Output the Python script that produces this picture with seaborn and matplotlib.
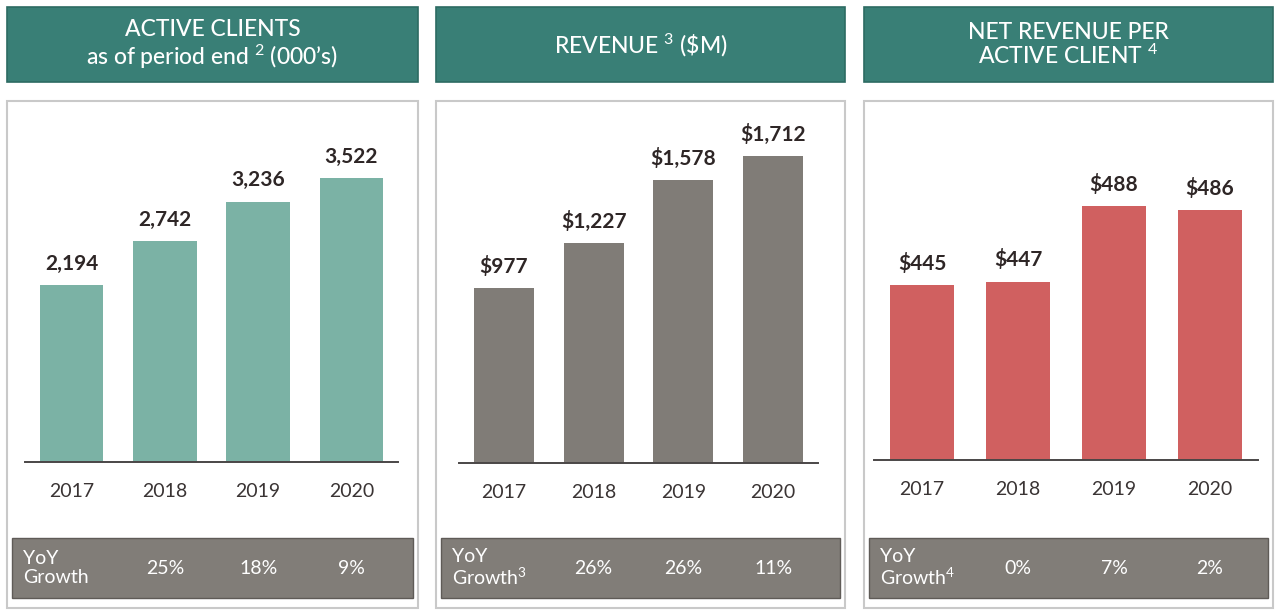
import matplotlib
matplotlib.use("Agg")
import matplotlib.pyplot as plt
import matplotlib.patches as mpatches
import matplotlib.transforms as mtransforms
import seaborn as sns
import pandas as pd

# ---------------- data ----------------
years = ["2017", "2018", "2019", "2020"]

clients_values = [2194, 2742, 3236, 3522]
clients_labels = ["2,194", "2,742", "3,236", "3,522"]
clients_growth = ["25%", "18%", "9%"]

revenue_values = [977, 1227, 1578, 1712]
revenue_labels = ["$977", "$1,227", "$1,578", "$1,712"]
revenue_growth = ["26%", "26%", "11%"]

nrpac_values = [445, 447, 488, 486]
nrpac_labels = ["$445", "$447", "$488", "$486"]
nrpac_growth = ["0%", "7%", "2%"]

titles = ["ACTIVE CLIENTS\nas of period end $^{2}$ (000\u2019s)",
          "REVENUE $^{3}$ (\\$M)",
          "NET REVENUE PER\nACTIVE CLIENT $^{4}$"]
growth_heads = ["YoY\nGrowth", "YoY\nGrowth$^{3}$", "YoY\nGrowth$^{4}$"]

# ---------------- style ----------------
sns.set_theme(style="white")
plt.rcParams["font.family"] = ["Lato", "DejaVu Sans"]
plt.rcParams["mathtext.fontset"] = "custom"
plt.rcParams["mathtext.rm"] = "Lato"
plt.rcParams["mathtext.it"] = "Lato:italic"
plt.rcParams["mathtext.bf"] = "Lato:bold"

W, H = 1280, 616
fig = plt.figure(figsize=(W / 100, H / 100), dpi=100)
fig.patch.set_facecolor("white")

def fx(px):
    return px / W

def fy(py):
    return 1 - py / H

HEADER = "#397F76"
HEADER_EDGE = "#2C6B62"
BAND = "#817D78"
BAND_EDGE = "#5F5B57"
BORDER = "#C9C9C9"
TEXT = "#2E2626"
YEARTXT = "#3A3434"

panels = [
    dict(x0=7, x1=418, ax_x0=25, ax_x1=398, base=462, scale=0.0805, ymin=0,
         values=clients_values, labels=clients_labels, growth=clients_growth,
         color="#7BB2A5", width=0.68),
    dict(x0=436, x1=845, ax_x0=459, ax_x1=818, base=463, scale=0.1795, ymin=0,
         values=revenue_values, labels=revenue_labels, growth=revenue_growth,
         color="#807C77", width=0.67),
    dict(x0=864, x1=1273, ax_x0=874, ax_x1=1258, base=460, scale=1.84, ymin=350,
         values=nrpac_values, labels=nrpac_labels, growth=nrpac_growth,
         color="#D06060", width=0.67),
]

ax_top_px = 105

for i, p in enumerate(panels):
    # header box
    fig.patches.append(mpatches.Rectangle(
        (fx(p["x0"]), fy(82)), fx(p["x1"] - p["x0"]), (82 - 7) / H,
        transform=fig.transFigure, facecolor=HEADER, edgecolor=HEADER_EDGE,
        linewidth=1.2, zorder=-2))
    fig.text(fx((p["x0"] + p["x1"]) / 2), fy(45), titles[i], ha="center",
             va="center", color="white", fontsize=16.5, linespacing=1.08,
             fontweight="medium")

    # white panel box
    fig.patches.append(mpatches.Rectangle(
        (fx(p["x0"]), fy(608)), fx(p["x1"] - p["x0"]), (608 - 101) / H,
        transform=fig.transFigure, facecolor="white", edgecolor=BORDER,
        linewidth=1.5, zorder=-2))

    # growth band
    fig.patches.append(mpatches.Rectangle(
        (fx(p["x0"] + 5), fy(598)), fx(p["x1"] - p["x0"] - 10), (598 - 538) / H,
        transform=fig.transFigure, facecolor=BAND, edgecolor=BAND_EDGE,
        linewidth=1.0, zorder=-1))
    fig.text(fx(p["x0"] + 16), fy(568), growth_heads[i], ha="left", va="center",
             color="white", fontsize=14, linespacing=1.2 if i == 0 else 1.1,
             zorder=3)

    # bar axes
    ax = fig.add_axes([fx(p["ax_x0"]), fy(p["base"]),
                       fx(p["ax_x1"] - p["ax_x0"]), (p["base"] - ax_top_px) / H])
    ax.set_zorder(2)
    ax.set_facecolor("none")
    df = pd.DataFrame({"year": years, "value": p["values"]})
    sns.barplot(data=df, x="year", y="value", ax=ax, color=p["color"],
                width=p["width"], saturation=1, edgecolor="none")
    ymax = p["ymin"] + (p["base"] - ax_top_px) / p["scale"]
    ax.set_ylim(p["ymin"], ymax)
    ax.set_xlim(-0.5, 3.5)
    ax.bar_label(ax.containers[0], labels=p["labels"], padding=8,
                 fontsize=15, fontweight="bold", color=TEXT)
    for s in ["top", "right", "left"]:
        ax.spines[s].set_visible(False)
    ax.spines["bottom"].set_color("#4A4646")
    ax.spines["bottom"].set_linewidth(1.4)
    ax.set_yticks([])
    ax.set_xlabel("")
    ax.set_ylabel("")
    ax.tick_params(axis="x", length=0, pad=15, labelsize=14, labelcolor=YEARTXT)

    trans = mtransforms.blended_transform_factory(ax.transData, fig.transFigure)
    for j, g in enumerate(p["growth"]):
        ax.text(j + 1, fy(568), g, transform=trans, ha="center", va="center",
                color="white", fontsize=14, clip_on=False, zorder=3)

fig.savefig("out.png", dpi=100, facecolor="white")
